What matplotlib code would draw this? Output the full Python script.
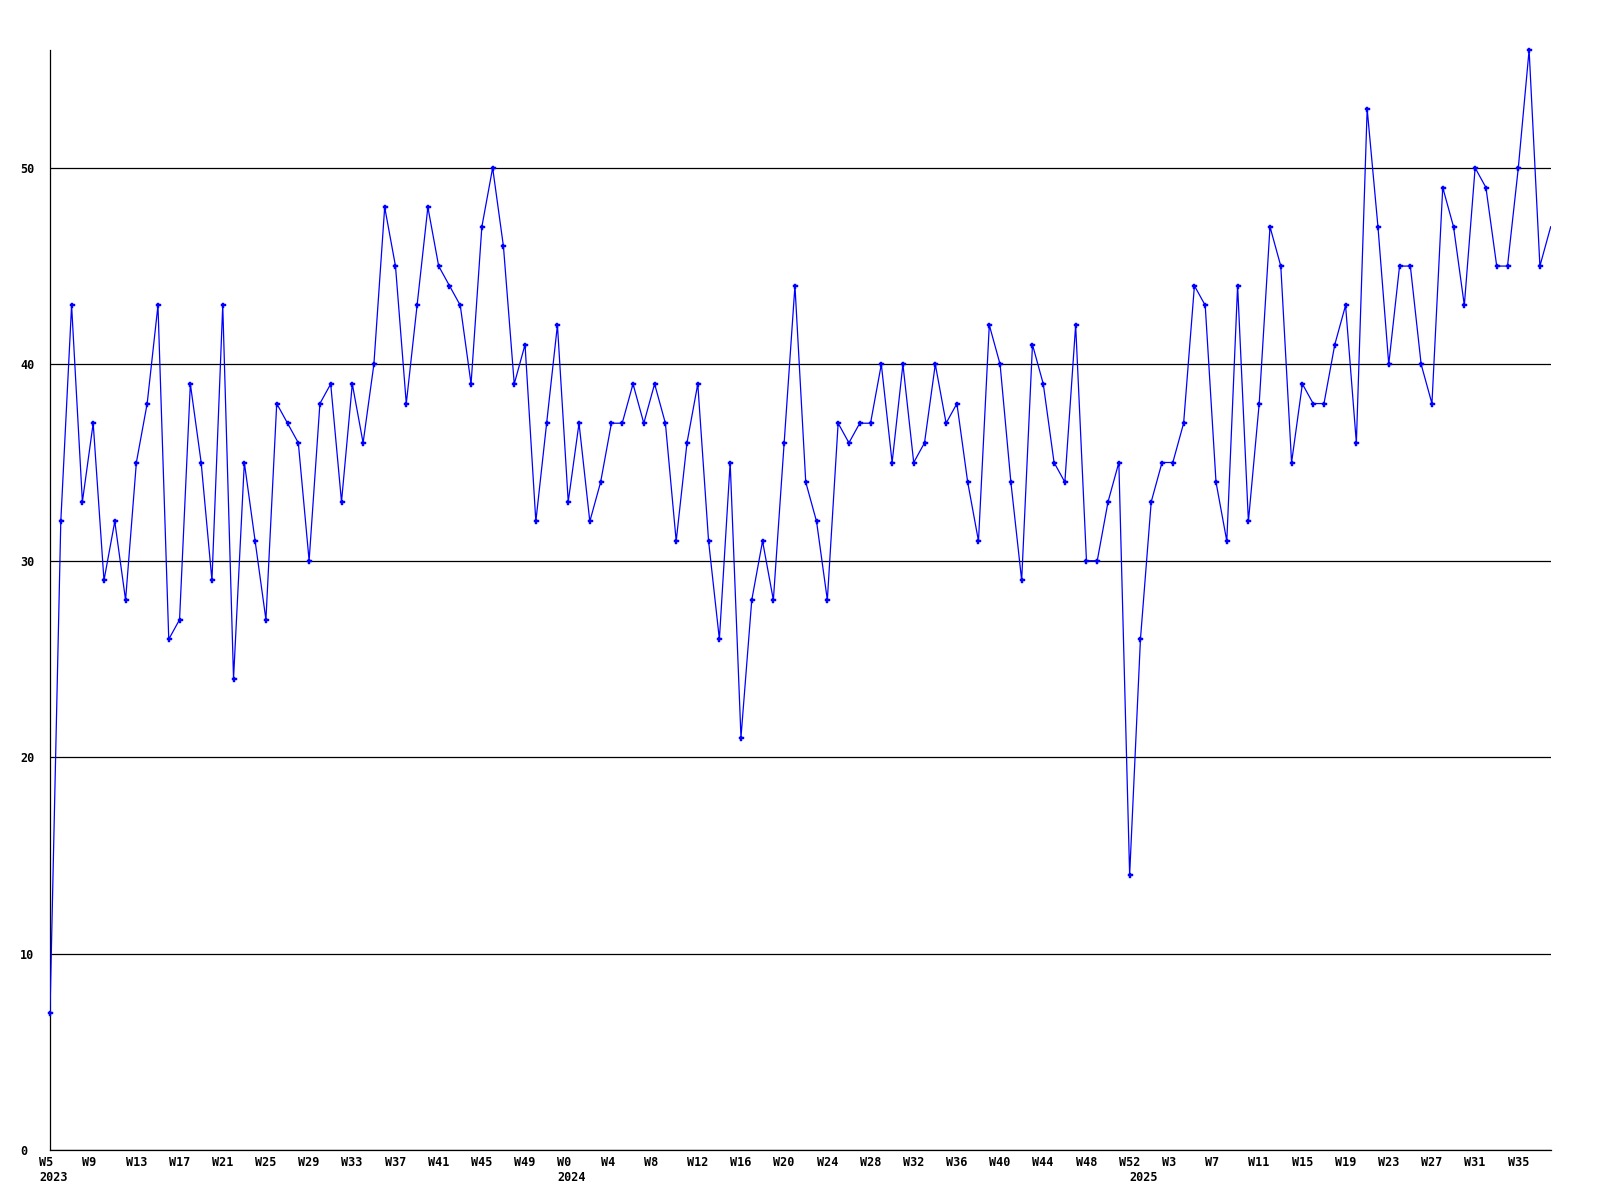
import numpy as np
import matplotlib
matplotlib.use("Agg")
import matplotlib.pyplot as plt
import matplotlib.transforms as mtransforms

# ---- data ----
weeks_2023 = list(range(5, 53))   # W5 .. W52
weeks_2024 = list(range(0, 53))   # W0 .. W52
weeks_2025 = list(range(0, 39))   # W0 .. W38

values_2023 = [7, 32, 43, 33, 37, 29, 32, 28, 35, 38,
               43, 26, 27, 39, 35, 29, 43, 24, 35, 31,
               27, 38, 37, 36, 30, 38, 39, 33, 39, 36,
               40, 48, 45, 38, 43, 48, 45, 44, 43, 39,
               47, 50, 46, 39, 41, 32, 37, 42]
values_2024 = [33, 37, 32, 34, 37, 37, 39, 37, 39, 37,
               31, 36, 39, 31, 26, 35, 21, 28, 31, 28,
               36, 44, 34, 32, 28, 37, 36, 37, 37, 40,
               35, 40, 35, 36, 40, 37, 38, 34, 31, 42,
               40, 34, 29, 41, 39, 35, 34, 42, 30, 30,
               33, 35, 14]
values_2025 = [26, 33, 35, 35, 37, 44, 43, 34, 31, 44,
               32, 38, 47, 45, 35, 39, 38, 38, 41, 43,
               36, 53, 47, 40, 45, 45, 40, 38, 49, 47,
               43, 50, 49, 45, 45, 50, 56, 45, 47]

y_ticks = [0, 10, 20, 30, 40, 50]

weeks = weeks_2023 + weeks_2024 + weeks_2025
years = [2023] * len(weeks_2023) + [2024] * len(weeks_2024) + [2025] * len(weeks_2025)
values = values_2023 + values_2024 + values_2025
x = np.arange(len(values))

# ---- figure ----
W, H, DPI = 1600, 1200, 100
fig = plt.figure(figsize=(W / DPI, H / DPI), dpi=DPI)
ax = fig.add_axes([50 / W, 1 - 1150 / H, 1500.7 / W, 1100 / H])

blue = "#0000ff"
ax.plot(x, values, color=blue, lw=0.9, zorder=3)
ax.plot(x[:-1], values[:-1], linestyle="none", marker="P", ms=3.6,
        mfc=blue, mec=blue, mew=0.3, zorder=4, clip_on=False)

ax.set_xlim(0, len(values) - 1)
ax.set_ylim(0, max(values))

for s in ["top", "right"]:
    ax.spines[s].set_visible(False)
for s in ["left", "bottom"]:
    ax.spines[s].set_color("black")
    ax.spines[s].set_linewidth(0.9)

font = dict(family="DejaVu Sans Mono", weight="bold", size=8.5)

ax.set_yticks(y_ticks)
ax.set_yticklabels([str(v) for v in y_ticks], fontdict=font)
ax.yaxis.grid(True, color="black", lw=0.9)
ax.set_axisbelow(True)
ax.tick_params(axis="y", length=0, pad=21.6)
for lab in ax.get_yticklabels():
    lab.set_horizontalalignment("left")

tick_idx = x[::4]
ax.set_xticks(tick_idx)
ax.set_xticklabels([f"W{weeks[i]}" for i in tick_idx], fontdict=font)
ax.tick_params(axis="x", length=0, pad=4)
shift = mtransforms.ScaledTranslation(-10.8 / DPI, 0, fig.dpi_scale_trans)
for lab in ax.get_xticklabels():
    lab.set_horizontalalignment("left")
    lab.set_transform(lab.get_transform() + shift)

# year labels at first week of each year
blend = mtransforms.blended_transform_factory(ax.transData, ax.transAxes)
year_shift = mtransforms.ScaledTranslation(-10.8 / DPI, -21 / DPI, fig.dpi_scale_trans)
seen = set()
for i, yr in enumerate(years):
    if yr not in seen:
        seen.add(yr)
        ax.text(i, 0, str(yr), transform=blend + year_shift, ha="left", va="top",
                clip_on=False, **font)

fig.savefig("out.png", dpi=DPI, facecolor="white")
